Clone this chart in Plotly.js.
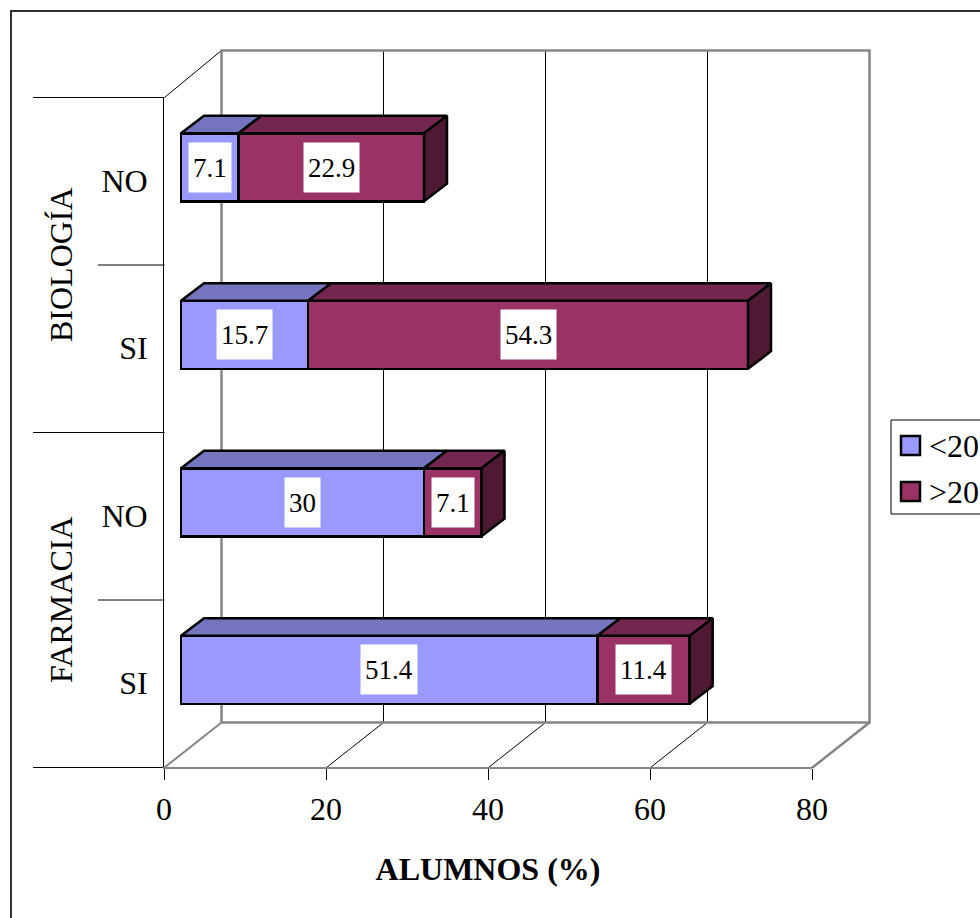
<!DOCTYPE html>
<html>
<head>
<meta charset="utf-8">
<script src="https://cdn.plot.ly/plotly-3.0.1.min.js"></script>
<style>html,body{margin:0;padding:0;background:#fff;overflow:hidden}</style>
</head>
<body>
<div id="chart" style="width:980px;height:918px"></div>
<script>
// Data (bottom to top)
const groups = ['FARMACIA', 'BIOLOGÍA'];
const answers = ['SI', 'NO', 'SI', 'NO'];
const under20 = [51.4, 30, 15.7, 7.1];
const over20 = [11.4, 7.1, 54.3, 22.9];
const seriesNames = ['<20', '>20'];
const xTicks = [0, 20, 40, 60, 80];

// Geometry (page pixels)
const PW = 980, PH = 918;
const L = 164, T = 97, W = 648, H = 670;
const ux = W / 80, uy = H / 4;
const catPos = answers.map((_, i) => i + 0.5);
const barH = 68 / uy;
const frontDX = 17 / ux, frontDY = 13.5 / uy;   // bars stand this far in from the front plane
const faceDX = 23 / ux, faceDY = 17.5 / uy;     // depth of a bar
const wallDX = 57 / ux, wallTop = 47 / uy, wallBot = 45 / uy; // back wall
const FONT = '"Liberation Serif","Times New Roman",serif';
const colA = '#9999FF', colATop = '#7575BF', colB = '#993366', colBTop = '#732650', colBSide = '#4D1933';
const GRAY = '#858585';
const EDGE = 2.5;

// Page-wide backdrop axes, half a pixel off so 1px lines stay crisp
const pageX = p => (p - L - 0.5) / ux;
const pageY = p => (T + H + 0.5 - p) / uy;

function lineTrace(xs, ys, color, width) {
  return {type: 'scatter', mode: 'lines', x: xs, y: ys, xaxis: 'x', yaxis: 'y',
    line: {color: color, width: width, simplify: false}, hoverinfo: 'skip', showlegend: false};
}
const wallX0 = wallDX, wallX1 = 80 + wallDX;
const traces = [];
// frame of the whole picture
traces.push(lineTrace([pageX(PW + 5), pageX(11), pageX(11)], [pageY(11), pageY(11), pageY(PH + 5)], '#333', 2));
// floor and wall grid, thin
[20, 40, 60].forEach(v => traces.push(lineTrace([v, v + wallDX], [0, wallBot], '#000', 1)));
[20, 40, 60].forEach(v => traces.push(lineTrace([v + wallDX, v + wallDX], [wallBot, 4 + wallTop], '#000', 1)));
traces.push(lineTrace([0, wallDX], [4, 4 + wallTop], '#000', 1));
// back wall and gray floor edges
traces.push(lineTrace([wallX0, wallX0, wallX1, wallX1, wallX0], [wallBot, 4 + wallTop, 4 + wallTop, wallBot, wallBot], GRAY, 2.5));
traces.push(lineTrace([0, wallDX], [0, wallBot], GRAY, 2));
traces.push(lineTrace([80, 80 + wallDX], [0, wallBot], GRAY, 2.5));
traces.push(lineTrace([0, 80], [0, 0], '#000', 1));
// category separators
[0, 2, 4].forEach(v => traces.push(lineTrace([pageX(33), 0], [v, v], '#000', 1)));
[1, 3].forEach(v => traces.push(lineTrace([pageX(98), 0], [v, v], '#000', 1)));

// Real axes: needs a trace of its own to exist
traces.push({type: 'scatter', mode: 'lines', x: [null], y: [null], xaxis: 'x2', yaxis: 'y2', hoverinfo: 'skip', showlegend: false});

// Front faces
traces.push({type: 'bar', orientation: 'h', name: seriesNames[0], y: catPos, x: under20, width: barH,
  xaxis: 'x3', yaxis: 'y3', cliponaxis: false, showlegend: false,
  marker: {color: colA, line: {color: '#000', width: EDGE}}});
traces.push({type: 'bar', orientation: 'h', name: seriesNames[1], y: catPos, x: over20, width: barH,
  xaxis: 'x3', yaxis: 'y3', cliponaxis: false, showlegend: false,
  marker: {color: colB, line: {color: '#000', width: EDGE}}});

function faces(starts, lens, kind) {
  const xs = [], ys = [];
  catPos.forEach((c, i) => {
    const a = starts[i], b = a + lens[i], top = c + barH / 2, bot = c - barH / 2;
    if (kind === 'top') {
      xs.push(a, b, b + faceDX, a + faceDX, a, null);
      ys.push(top, top, top + faceDY, top + faceDY, top, null);
    } else {
      xs.push(b, b + faceDX, b + faceDX, b, b, null);
      ys.push(top, top + faceDY, bot + faceDY, bot, top, null);
    }
  });
  return {xs, ys};
}
function faceTrace(f, fill) {
  return {type: 'scatter', mode: 'lines', x: f.xs, y: f.ys, xaxis: 'x3', yaxis: 'y3', cliponaxis: false,
    fill: 'toself', fillcolor: fill, line: {color: '#000', width: EDGE, simplify: false},
    hoverinfo: 'skip', showlegend: false};
}
const zeros = under20.map(() => 0);
traces.push(faceTrace(faces(zeros, under20, 'top'), colATop));
traces.push(faceTrace(faces(under20, over20, 'top'), colBTop));
traces.push(faceTrace(faces(under20, over20, 'side'), colBSide));

// Value labels
const annotations = [];
function valueLabel(x, y, v) {
  annotations.push({xref: 'x3', yref: 'y3', x: x, y: y, text: String(v), showarrow: false,
    bgcolor: '#fff', borderpad: 4, height: 41, font: {family: FONT, size: 27, color: '#000'}});
}
catPos.forEach((c, i) => {
  valueLabel(under20[i] / 2, c, under20[i]);
  valueLabel(under20[i] + over20[i] / 2, c, over20[i]);
});
// Group labels
groups.forEach((g, i) => {
  annotations.push({xref: 'x', yref: 'y', x: pageX(61), y: 2 * i + 1, text: g, textangle: -90,
    xanchor: 'center', yanchor: 'middle', showarrow: false, font: {family: FONT, size: 32, color: '#000'}});
});

// Legend: box open at the page edge, swatches larger than the built-in ones
const shapes = [];
const legendRows = [446, 492];
const legendColors = [colA, colB];
shapes.push({type: 'path', xref: 'x', yref: 'y', layer: 'above',
  path: `M${pageX(PW + 5)},${pageY(420)}L${pageX(891)},${pageY(420)}L${pageX(891)},${pageY(514)}L${pageX(PW + 5)},${pageY(514)}`,
  line: {color: '#000', width: 1}});
legendRows.forEach((r, i) => {
  shapes.push({type: 'rect', xref: 'x', yref: 'y', x0: pageX(901), x1: pageX(920), y0: pageY(r - 10), y1: pageY(r + 9),
    fillcolor: legendColors[i], line: {color: '#000', width: EDGE}});
  annotations.push({xref: 'x', yref: 'y', x: pageX(926.5), y: pageY(r), text: seriesNames[i].replace('<', '&lt;').replace('>', '&gt;'),
    xanchor: 'left', yanchor: 'middle', showarrow: false, font: {family: FONT, size: 32, color: '#000'}});
});

const layout = {
  width: PW, height: PH,
  margin: {l: 0, r: 0, t: 0, b: 0, pad: 0, autoexpand: false},
  paper_bgcolor: '#fff', plot_bgcolor: 'rgba(0,0,0,0)',
  font: {family: FONT, size: 32, color: '#000'},
  barmode: 'stack',
  hovermode: false,
  showlegend: false,
  xaxis: {domain: [0, 1], range: [pageX(0), pageX(PW)], visible: false, anchor: 'y'},
  yaxis: {domain: [0, 1], range: [pageY(PH), pageY(0)], visible: false, anchor: 'x'},
  xaxis2: {domain: [L / PW, (L + W) / PW], anchor: 'y2', range: [0, 80], tickvals: xTicks, ticks: 'outside', ticklen: 11, tickwidth: 1, tickcolor: '#000',
    showgrid: false, zeroline: false, showline: true, linecolor: GRAY, linewidth: 2,
    ticklabelstandoff: 2, tickfont: {family: FONT, size: 32},
    title: {text: '<b>ALUMNOS (%)</b>', standoff: 31, font: {family: FONT, size: 32}}, automargin: false},
  yaxis2: {domain: [(PH - T - H) / PH, (PH - T) / PH], anchor: 'x2', range: [0, 4], tickvals: catPos, ticktext: answers, ticks: '', showgrid: false, zeroline: false,
    showline: true, linecolor: '#000', linewidth: 1, ticklabelstandoff: 9, tickfont: {family: FONT, size: 32}, automargin: false},
  xaxis3: {overlaying: 'x2', anchor: 'y3', visible: false, range: [-frontDX, 80 - frontDX]},
  yaxis3: {overlaying: 'y2', anchor: 'x3', visible: false, range: [-frontDY, 4 - frontDY]},
  annotations: annotations,
  shapes: shapes
};
Plotly.newPlot('chart', traces, layout, {displayModeBar: false, staticPlot: true});
</script>
</body>
</html>
